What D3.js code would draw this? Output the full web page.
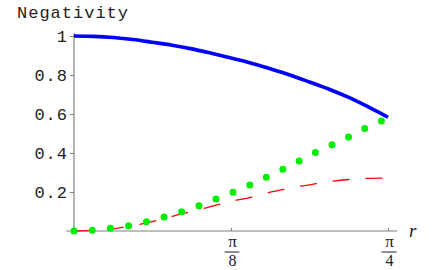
<!DOCTYPE html>
<html>
<head>
<meta charset="utf-8">
<script src="https://cdn.jsdelivr.net/npm/d3@7"></script>
<style>
  body { margin: 0; background: #fff; }
  svg text { fill: #222; }
  .mono { font-family: "Liberation Mono", "DejaVu Sans Mono", monospace; font-size: 17px; letter-spacing: 1px; }
  .frac { font-family: "Liberation Serif", serif; font-size: 16px; }
</style>
</head>
<body>
<svg id="chart" width="437" height="270"></svg>
<script>
// r sampled in steps of pi/64, from 0 to pi/4
var rSteps = [0, 1, 2, 3, 4, 5, 6, 7, 8, 9, 10, 11, 12, 13, 14, 15, 16];

// values
var blueVals  = [1.0, 0.998, 0.992, 0.982, 0.968, 0.953, 0.934, 0.911, 0.887, 0.862, 0.832, 0.800, 0.764, 0.727, 0.685, 0.636, 0.583];
var greenVals = [0, 0.005, 0.016, 0.031, 0.055, 0.085, 0.115, 0.155, 0.194, 0.238, 0.285, 0.334, 0.387, 0.435, 0.482, 0.535, 0.578];
var redVals   = [0, 0.004, 0.011, 0.028, 0.048, 0.075, 0.100, 0.126, 0.152, 0.173, 0.199, 0.221, 0.237, 0.253, 0.264, 0.270, 0.271];

var yTicks = [0.2, 0.4, 0.6, 0.8, 1];
var yTickLabels = ["0.2", "0.4", "0.6", "0.8", "1"];
var xTicks = [Math.PI / 8, Math.PI / 4];
var xTickDenoms = ["8", "4"];

var svg = d3.select("#chart");

var x = d3.scaleLinear().domain([0, Math.PI / 4]).range([74, 388]);
var y = d3.scaleLinear().domain([0, 1]).range([231, 36]);

var rVals = rSteps.map(function (s) { return s * Math.PI / 64; });

// axes lines (gray, crossing at origin)
svg.append("line")
    .attr("x1", x(0) - 8).attr("x2", x(Math.PI / 4) + 9)
    .attr("y1", y(0)).attr("y2", y(0))
    .attr("stroke", "#808080").attr("stroke-width", 1.2);
svg.append("line")
    .attr("x1", x(0)).attr("x2", x(0))
    .attr("y1", y(0)).attr("y2", y(1) - 3)
    .attr("stroke", "#808080").attr("stroke-width", 1.2);

// y axis ticks + labels
var yAxis = d3.axisLeft(y)
    .tickValues(yTicks)
    .tickSize(4)
    .tickPadding(3)
    .tickFormat(function (d, i) { return yTickLabels[i]; });
var gy = svg.append("g").attr("transform", "translate(" + x(0) + ",0)").call(yAxis);
gy.select(".domain").remove();
gy.selectAll(".tick line").attr("stroke", "#808080");
gy.selectAll(".tick text").attr("class", "mono").attr("fill", "#222").style("font-size", "17px")
    .attr("dx", 1);

// x axis ticks (pointing up) + fraction labels
var xAxis = d3.axisBottom(x)
    .tickValues(xTicks)
    .tickSize(-3)
    .tickFormat("");
var gx = svg.append("g").attr("transform", "translate(0," + y(0) + ")").call(xAxis);
gx.select(".domain").remove();
gx.selectAll(".tick line").attr("stroke", "#808080");

gx.selectAll(".tick").each(function (d, i) {
    var t = d3.select(this);
    t.append("text").attr("class", "frac").attr("text-anchor", "middle")
        .attr("x", 1).attr("y", 16).style("font-size", "17px").attr("fill", "#222").text("\u03c0");
    t.append("line").attr("x1", -7).attr("x2", 8).attr("y1", 21).attr("y2", 21)
        .attr("stroke", "#222").attr("stroke-width", 1);
    t.append("text").attr("class", "frac").attr("text-anchor", "middle")
        .attr("x", 1).attr("y", 35).style("font-size", "16px").attr("fill", "#222").text(xTickDenoms[i]);
});

// axis titles
svg.append("text").attr("class", "mono")
    .attr("x", 17).attr("y", 18).text("Negativity");
svg.append("text")
    .attr("x", 409).attr("y", 237)
    .style("font-family", "Liberation Serif, serif")
    .style("font-style", "italic")
    .style("font-size", "19px")
    .text("r");

function makeLine(vals) {
    return d3.line()
        .x(function (d, i) { return x(rVals[i]); })
        .y(function (d) { return y(d); })
        .curve(d3.curveMonotoneX)(vals);
}

// red dashed
svg.append("path")
    .attr("d", makeLine(redVals))
    .attr("fill", "none")
    .attr("stroke", "#ff0000")
    .attr("stroke-width", 1.3)
    .attr("stroke-dasharray", "17 16");

// green dotted
svg.append("path")
    .attr("d", makeLine(greenVals))
    .attr("fill", "none")
    .attr("stroke", "#00ee00")
    .attr("stroke-width", 7)
    .attr("stroke-linecap", "round")
    .attr("stroke-dasharray", "0 18.3");

// blue solid
svg.append("path")
    .attr("d", makeLine(blueVals))
    .attr("fill", "none")
    .attr("stroke", "#0000ff")
    .attr("stroke-width", 3.6);
</script>
</body>
</html>
